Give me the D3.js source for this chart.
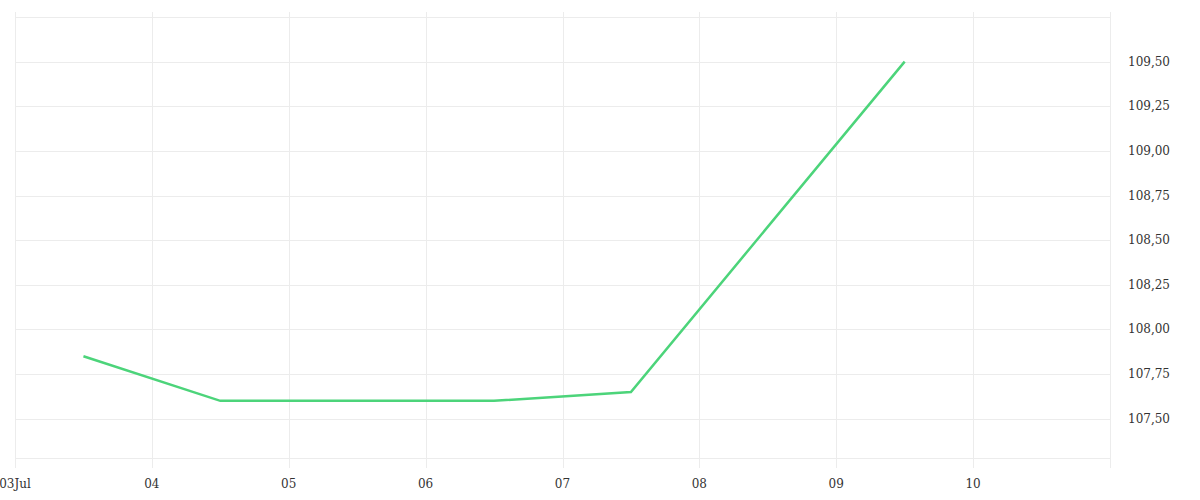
<!DOCTYPE html>
<html>
  <head>
    <meta charset="utf-8">
    <title>Line chart</title>
    <script src="https://d3js.org/d3.v7.min.js"></script>
    <style>
      body { margin: 0; background: #fff; }
      text { font-family: "DejaVu Serif", "Liberation Serif", serif; font-size: 12px; fill: #333; }
    </style>
  </head>
  <body>
    <svg width="1200" height="500"></svg>
    <script>
      // data
      const dates = ["2023-07-03T12:00", "2023-07-04T12:00", "2023-07-05T12:00",
                     "2023-07-06T12:00", "2023-07-07T12:00", "2023-07-09T12:00"];
      const values = [107.85, 107.60, 107.60, 107.60, 107.65, 109.50];
      const yTicks = [107.5, 107.75, 108, 108.25, 108.5, 108.75, 109, 109.25, 109.5, 109.75];
      const xTicks = ["2023-07-03", "2023-07-04", "2023-07-05", "2023-07-06",
                      "2023-07-07", "2023-07-08", "2023-07-09", "2023-07-10", "2023-07-11"];
      const xLabels = ["03Jul", "04", "05", "06", "07", "08", "09", "10", ""];

      const parse = d3.timeParse("%Y-%m-%dT%H:%M");
      const parseDay = d3.timeParse("%Y-%m-%d");
      const points = dates.map((d, i) => ({ date: parse(d), value: values[i] }));

      const plotLeft = 15, plotRight = 1110, plotTop = 17, plotBottom = 458;
      const svg = d3.select("svg");

      const x = d3.scaleTime()
        .domain([parseDay(xTicks[0]), parseDay(xTicks[xTicks.length - 1])])
        .range([plotLeft, plotRight]);
      const y = d3.scaleLinear()
        .domain([107.28, 109.75])
        .range([plotBottom, plotTop]);

      // horizontal gridlines
      svg.append("g").selectAll("line")
        .data(yTicks.concat([y.domain()[0]]))
        .enter().append("line")
        .attr("x1", plotLeft).attr("x2", plotRight)
        .attr("y1", d => Math.round(y(d)) + 0.5)
        .attr("y2", d => Math.round(y(d)) + 0.5)
        .attr("stroke", "#ececec");

      // vertical gridlines (run past the bottom as ticks)
      svg.append("g").selectAll("line")
        .data(xTicks)
        .enter().append("line")
        .attr("x1", d => Math.round(x(parseDay(d))) + 0.5)
        .attr("x2", d => Math.round(x(parseDay(d))) + 0.5)
        .attr("y1", plotTop - 5).attr("y2", plotBottom + 10)
        .attr("stroke", "#ececec");

      // x labels
      svg.append("g").selectAll("text")
        .data(xTicks)
        .enter().append("text")
        .attr("x", d => x(parseDay(d)))
        .attr("y", 488)
        .attr("text-anchor", "middle")
        .text((d, i) => xLabels[i]);

      // y labels on the right
      svg.append("g").selectAll("text")
        .data(yTicks.filter(d => d < 109.7))
        .enter().append("text")
        .attr("x", 1128)
        .attr("y", d => y(d) + 4)
        .text(d => d3.format(".2f")(d).replace(".", ","));

      const line = d3.line()
        .x(d => x(d.date))
        .y(d => y(d.value));

      svg.append("path")
        .datum(points)
        .attr("d", line)
        .attr("fill", "none")
        .attr("stroke", "#4cd47a")
        .attr("stroke-width", 2.5);
    </script>
  </body>
</html>
